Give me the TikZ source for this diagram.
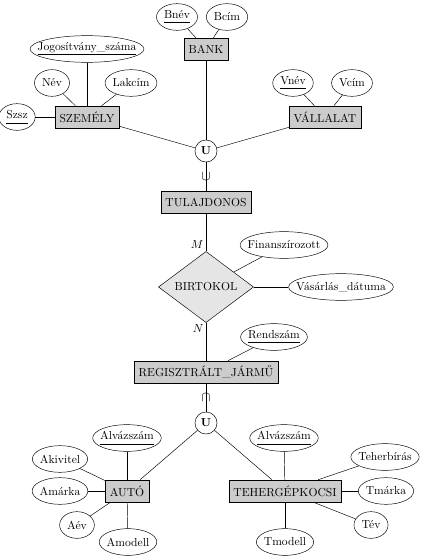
\documentclass[tikz,border=0pt]{standalone}
\usepackage{tikz}
\usetikzlibrary{shapes.geometric}

\tikzset{
  entity/.style={rectangle, draw, fill=gray!40, minimum height=19pt, inner xsep=4pt},
  rel/.style={diamond, draw, fill=gray!20, minimum width=82pt, minimum height=60pt, inner sep=0pt},
  attr/.style={ellipse, draw, inner xsep=0pt, inner ysep=0pt, minimum height=23pt,
    execute at begin node={\setbox0\hbox\bgroup},
    execute at end node={\egroup\hbox to \dimexpr(\wd0+13pt)*707/1000\relax{\hss\box0\hss}}},
  uni/.style={circle, draw, inner sep=0pt, minimum size=19pt, font=\bfseries},
  sub/.style={font=\large, inner sep=0pt}
}

\newcommand{\keyattr}[1]{\underline{#1\vphantom{y}}}

\begin{document}
\begin{tikzpicture}[x=0.862pt, y=-0.862pt]

\useasboundingbox (0,0) rectangle (422,557);

% entities

\node[entity] (bank) at (206,49) {BANK};
\node[entity] (szemely) at (87,117) {SZEMÉLY};
\node[entity] (vallalat) at (325,117) {VÁLLALAT};
\node[entity] (tul) at (206,202) {TULAJDONOS};
\node[entity] (reg) at (206,372) {REGISZTRÁLT\_JÁRMŰ};
\node[entity] (auto) at (127,491) {AUTÓ};
\node[entity] (teher) at (285,491) {TEHERGÉPKOCSI};

% relationship and unions

\node[rel] (birt) at (206,287) {BIRTOKOL};
\node[uni] (u1) at (206,151) {U};
\node[uni] (u2) at (206,423) {U};

% attributes

\node[attr] (bnev) at (177,17) {\keyattr{Bnév}};
\node[attr] (bcim) at (227,17) {Bcím};
\node[attr] (jog) at (87,49) {\keyattr{Jogosítvány\_száma}};
\node[attr] (nev) at (52,83) {Név};
\node[attr] (lakcim) at (131,83) {Lakcím};
\node[attr] (szsz) at (17,117) {\keyattr{Szsz}};
\node[attr] (vnev) at (293,83) {\keyattr{Vnév}};
\node[attr] (vcim) at (352,83) {Vcím};
\node[attr] (fin) at (284,245) {Finanszírozott};
\node[attr] (vas) at (341,287) {Vásárlás\_dátuma};
\node[attr] (rend) at (274,337) {\keyattr{Rendszám}};
\node[attr] (alv1) at (127,438) {\keyattr{Alvázszám}};
\node[attr] (akiv) at (60,459) {Akivitel};
\node[attr] (amarka) at (60,491) {Amárka};
\node[attr] (aev) at (77,525) {Aév};
\node[attr] (amodell) at (128,542) {Amodell};
\node[attr] (alv2) at (284,438) {\keyattr{Alvázszám}};
\node[attr] (teherb) at (385,457) {Teherbírás};
\node[attr] (tmarka) at (386,491) {Tmárka};
\node[attr] (tev) at (371,525) {Tév};
\node[attr] (tmodell) at (285,542) {Tmodell};

% edges

\draw (bnev) -- (bank);
\draw (bcim) -- (bank);
\draw (jog) -- (szemely);
\draw (nev) -- (szemely);
\draw (lakcim) -- (szemely);
\draw (szsz) -- (szemely);
\draw (vnev) -- (vallalat);
\draw (vcim) -- (vallalat);
\draw (bank) -- (u1);
\draw (szemely) -- (u1);
\draw (vallalat) -- (u1);
\draw (u1) -- node[sub] {$\cup$} (tul);
\draw (tul) -- node[pos=0.82, left, inner sep=2pt] {$M$} (birt);
\draw (birt) -- node[pos=0.15, left, inner sep=2pt] {$N$} (reg);
\draw (fin) -- (birt);
\draw (vas) -- (birt);
\draw (rend) -- (reg);
\draw (reg) -- node[sub] {$\cap$} (u2);
\draw (u2) -- (auto);
\draw (u2) -- (teher);
\draw (alv1) -- (auto);
\draw (akiv) -- (auto);
\draw (amarka) -- (auto);
\draw (aev) -- (auto);
\draw (amodell) -- (auto);
\draw (alv2) -- (teher);
\draw (teherb) -- (teher);
\draw (tmarka) -- (teher);
\draw (tev) -- (teher);
\draw (tmodell) -- (teher);

\end{tikzpicture}
\end{document}
